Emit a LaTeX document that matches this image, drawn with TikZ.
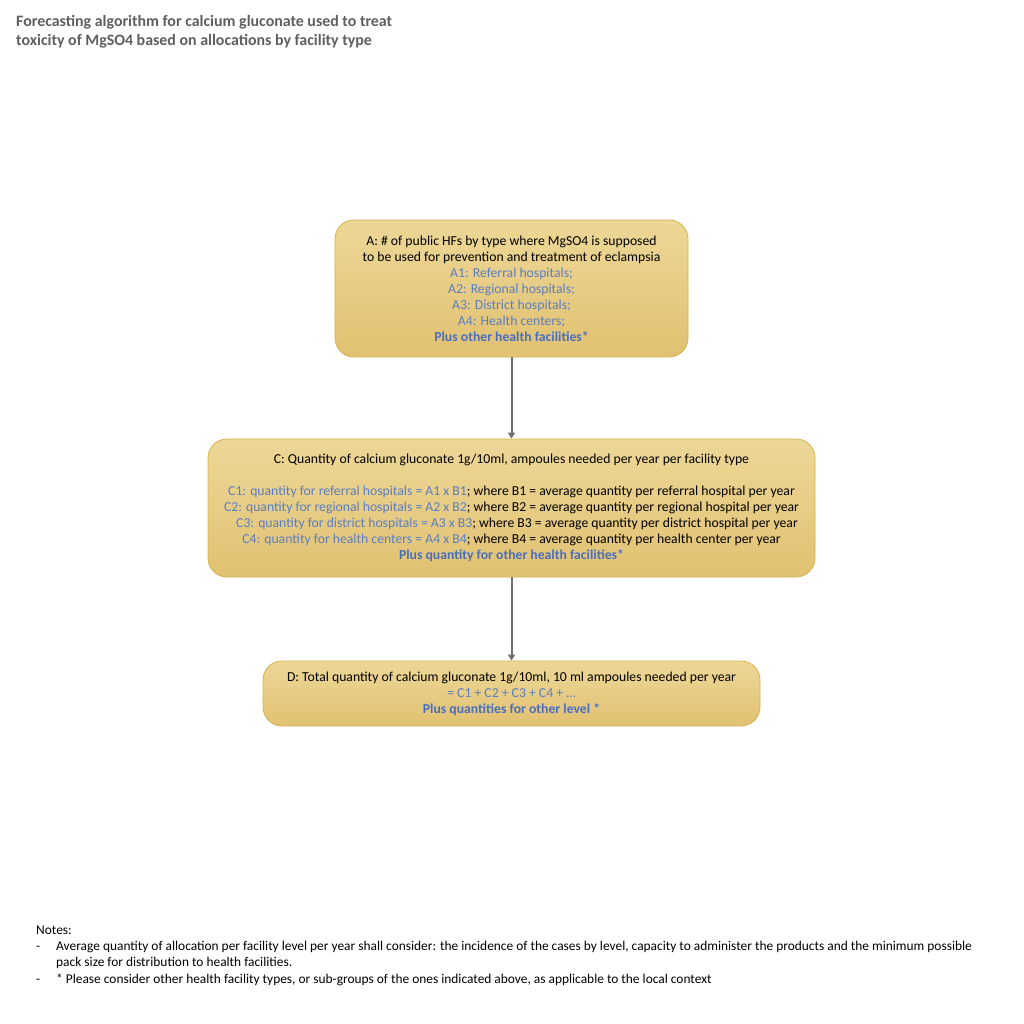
\documentclass[tikz,border=0pt]{standalone}
\usepackage{fontspec}
\setmainfont{Carlito}
\usetikzlibrary{arrows.meta}
\definecolor{boxtop}{HTML}{EDD797}
\definecolor{boxbot}{HTML}{E1C171}
\definecolor{boxline}{HTML}{D6B24F}
\definecolor{bl}{HTML}{5B7EC2}
\definecolor{blb}{HTML}{4A6EBE}
\definecolor{ttl}{HTML}{5F5F5F}
\definecolor{arr}{HTML}{6F6F6F}
\begin{document}
\begin{tikzpicture}[x=1pt,y=-1pt,
  box/.style={draw=boxline, line width=0.8pt, rounded corners=19pt, top color=boxtop, bottom color=boxbot,
    align=center, font=\fontsize{13.7}{16}\selectfont, inner sep=0pt},
  conn/.style={draw=arr, line width=2pt, -{Triangle[length=6pt,width=7pt]}},
  plain/.style={anchor=base west, inner sep=0pt, align=left, font=\fontsize{13.4}{16.5}\selectfont}]
\useasboundingbox[fill=white] (0,0) rectangle (1024,1024);

\node[anchor=base west, inner sep=0pt, align=left, text=ttl, font=\fontsize{15.9}{19.5}\selectfont\bfseries] (title) at (16,46)
  {Forecasting algorithm for calcium gluconate used to treat\\toxicity of MgSO4 based on allocations by facility type};

\node[box, minimum width=353pt, minimum height=137pt] (A) at (511.5,288.5)
  {A: \# of public HFs by type where MgSO4 is supposed\\
   to be used for prevention and treatment of eclampsia\\
   \textcolor{bl}{A1: Referral hospitals;}\\
   \textcolor{bl}{A2: Regional hospitals;}\\
   \textcolor{bl}{A3: District hospitals;}\\
   \textcolor{bl}{A4: Health centers;}\\
   \textcolor{blb}{\bfseries Plus other health facilities*}};

\node[box, minimum width=607pt, minimum height=138pt] (C) at (511.5,508)
  {C: Quantity of calcium gluconate 1g/10ml, ampoules needed per year per facility type\\
   \mbox{}\\
   \textcolor{bl}{C1: quantity for referral hospitals = A1 x B1}; where B1 = average quantity per referral hospital per year\\
   \textcolor{bl}{C2: quantity for regional hospitals = A2 x B2}; where B2 = average quantity per regional hospital per year\\
   \hspace*{11pt}\textcolor{bl}{C3: quantity for district hospitals = A3 x B3}; where B3 = average quantity per district hospital per year\\
   \textcolor{bl}{C4: quantity for health centers = A4 x B4}; where B4 = average quantity per health center per year\\
   \textcolor{blb}{\bfseries Plus quantity for other health facilities*}};

\node[box, minimum width=497pt, minimum height=65pt] (D) at (511.5,693.5)
  {D: Total quantity of calcium gluconate 1g/10ml, 10 ml ampoules needed per year\\
   \textcolor{bl}{= C1 + C2 + C3 + C4 + \ldots}\\
   \textcolor{blb}{\bfseries Plus quantities for other level *}};

\draw[conn] (A) -- (C);
\draw[conn] (C) -- (D);

\node[plain] (notes) at (36,934) {Notes:};
\node[plain] (dash1) at (36,950) {-};
\node[plain] (note1) at (56,966.5) {Average quantity of allocation per facility level per year shall consider: the incidence of the cases by level, capacity to administer the products and the minimum possible\\pack size for distribution to health facilities.};
\node[plain] (dash2) at (36,983) {-};
\node[plain] (note2) at (56,983) {* Please consider other health facility types, or sub-groups of the ones indicated above, as applicable to the local context};
\end{tikzpicture}
\end{document}
